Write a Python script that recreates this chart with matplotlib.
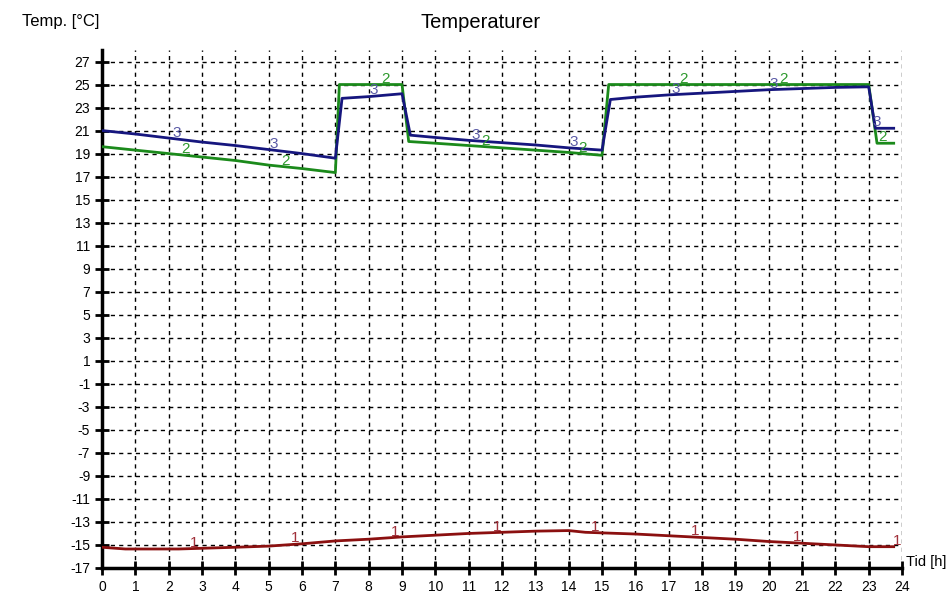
import numpy as np
import matplotlib.pyplot as plt

plt.rcParams['font.family'] = ['Liberation Sans', 'DejaVu Sans']
plt.rcParams['axes.unicode_minus'] = False

# Curve 1 - outdoor temperature
t1 = [0, 0.7, 2.3, 4, 5, 6, 7, 8, 9, 10, 11, 12, 13, 14, 14.5, 16, 17, 18, 19, 20, 21, 22, 23, 23.75]
temp1 = [-15.2, -15.35, -15.35, -15.2, -15.1, -14.9, -14.65, -14.5, -14.3, -14.15, -14.0, -13.9,
         -13.8, -13.75, -13.9, -14.05, -14.2, -14.35, -14.5, -14.7, -14.85, -15.0, -15.15, -15.15]

# Curve 2 - setpoint
t2 = [0, 1, 2, 3, 4, 5, 6, 7.0, 7.12, 9.0, 9.2, 10, 11, 12, 13, 14, 15.0, 15.2, 23.0, 23.25, 23.75]
temp2 = [19.6, 19.3, 19.0, 18.7, 18.4, 18.0, 17.7, 17.35, 25.0, 25.0, 20.05, 19.9, 19.7, 19.5,
         19.3, 19.1, 18.85, 25.0, 25.0, 19.9, 19.9]

# Curve 3 - room temperature
t3 = [0, 1, 2, 3, 4, 5, 6, 7.0, 7.2, 8, 9.0, 9.25, 10, 11, 12, 13, 14, 15.0, 15.25, 16, 17, 18,
      19, 20, 21, 22, 23.0, 23.2, 23.75]
temp3 = [21.0, 20.7, 20.35, 20.0, 19.7, 19.35, 19.0, 18.6, 23.8, 23.95, 24.2, 20.6, 20.4, 20.15,
         19.95, 19.75, 19.5, 19.3, 23.7, 23.9, 24.1, 24.25, 24.4, 24.55, 24.65, 24.75, 24.8, 21.2, 21.2]

# where the curve numbers are written
lab1_x = [2.75, 5.8, 8.8, 11.85, 14.8, 17.8, 20.85, 23.85]
lab2_x = [2.5, 5.5, 8.5, 11.5, 14.4, 17.45, 20.45, 23.4]
lab3_x = [2.25, 5.15, 8.15, 11.2, 14.15, 17.2, 20.15, 23.25]

hours = np.arange(0, 25)
yticks = np.arange(-17, 28, 2)

fig = plt.figure(figsize=(9.51, 5.98), dpi=100)
ax = fig.add_axes([0.1073, 0.0502, 0.8412, 0.8662])

# grid
for h in hours[1:]:
    ax.axvline(h, color='black', linestyle=(0, (3, 3)), linewidth=1, zorder=1)
for v in yticks[1:]:
    ax.axhline(v, color='black', linestyle=(0, (3, 3)), linewidth=1, zorder=1)

ax.plot(t1, temp1, color='#8b1010', linewidth=2, zorder=3)
ax.plot(t2, temp2, color='#1b8a1b', linewidth=2, zorder=3)
ax.plot(t3, temp3, color='#16167e', linewidth=2, zorder=4)

for x in lab1_x:
    ax.text(x, np.interp(x, t1, temp1) - 0.1, '1', color='#a0303a', fontsize=11, ha='center', va='bottom', zorder=5)
for x in lab2_x:
    ax.text(x, np.interp(x, t2, temp2) - 0.1, '2', color='#2e9a2e', fontsize=11, ha='center', va='bottom', zorder=5)
for x in lab3_x:
    ax.text(x, np.interp(x, t3, temp3) - 0.1, '3', color='#5a5aa6', fontsize=11, ha='center', va='bottom', zorder=5)

ax.set_xlim(0, 24)
ax.set_ylim(-17, 28)
ax.set_xticks(hours)
ax.set_yticks(yticks)
ax.tick_params(direction='inout', length=10, width=2, labelsize=10, colors='black')
for s in ['top', 'right']:
    ax.spines[s].set_visible(False)
for s in ['left', 'bottom']:
    ax.spines[s].set_linewidth(2.5)

fig.text(0.505, 0.962, 'Temperaturer', fontsize=14.5, ha='center', va='center')
fig.text(0.023, 0.964, 'Temp. [°C]', fontsize=12, ha='left', va='center')
fig.text(0.953, 0.06, 'Tid [h]', fontsize=10.5, ha='left', va='center')

fig.savefig('out.png', dpi=100)
